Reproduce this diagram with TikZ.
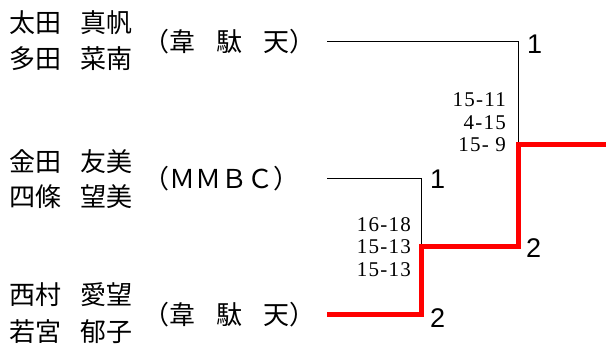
\documentclass[tikz,border=0pt]{standalone}
\usepackage{fontspec}
\newfontfamily\jpfont{Noto Sans CJK JP}
\newfontfamily\scorefont{Liberation Serif}[LetterSpace=6]
\newfontfamily\rankfont{Liberation Sans}
\newskip\nameskip \nameskip=19pt
\newskip\teamskip \teamskip=21pt
\newcommand\playerfont{\jpfont\fontsize{26}{26}\selectfont\spaceskip\nameskip}
\newcommand\clubfont{\jpfont\fontsize{26}{26}\selectfont\spaceskip\teamskip}
\begin{document}
\begin{tikzpicture}[x=1pt,y=-1pt,
  player/.style={anchor=west, inner sep=0pt, font=\playerfont},
  team/.style={anchor=west, inner sep=0pt, font=\clubfont},
  score/.style={anchor=east, inner sep=0pt, align=right, font=\scorefont\fontsize{21}{22.5}\selectfont},
  rank/.style={anchor=west, inner sep=0pt, font=\rankfont\fontsize{27}{27}\selectfont},
  thinline/.style={draw=black, line width=1pt},
  winline/.style={draw=red, line width=5pt}]
\useasboundingbox (0,0) rectangle (606,347);
% players
\node[player] (p1a) at (9,23) {太田 真帆};
\node[player] (p1b) at (9,59) {多田 菜南};
\node[team] (t1) at (143,42) {（韋 駄 天）};
\node[player] (p2a) at (9,162) {金田 友美};
\node[player] (p2b) at (9,197) {四條 望美};
\node[team] (t2) at (143,179) {（ＭＭＢＣ）};
\node[player] (p3a) at (9,295) {西村 愛望};
\node[player] (p3b) at (9,332) {若宮 郁子};
\node[team] (t3) at (143,315) {（韋 駄 天）};
% bracket points
\coordinate (s1) at (327,42);
\coordinate (c1) at (518,42);
\coordinate (s2) at (327,179);
\coordinate (c2) at (421,179);
\coordinate (s3) at (327,315);
\coordinate (c3) at (421,315);
\coordinate (m1) at (421,247);
\coordinate (m2) at (518,247);
\coordinate (f) at (518,145);
\coordinate (w) at (606,145);
% lines
\draw[thinline] (s1) -- (c1) -- (f);
\draw[thinline] (s2) -- (c2) -- (m1);
\draw[winline] (s3) -- (c3) -- (m1) -- (m2) -- (f) -- (w);
% ranks
\node[rank] (r1) at (527,44) {1};
\node[rank] (r2) at (430,179) {1};
\node[rank] (r3) at (526,248) {2};
\node[rank] (r4) at (430,318) {2};
% scores
\node[score] (sc1) at (506,122.5) {15-11\\4-15\\15- 9};
\node[score] (sc2) at (411,247) {16-18\\15-13\\15-13};
\end{tikzpicture}
\end{document}
